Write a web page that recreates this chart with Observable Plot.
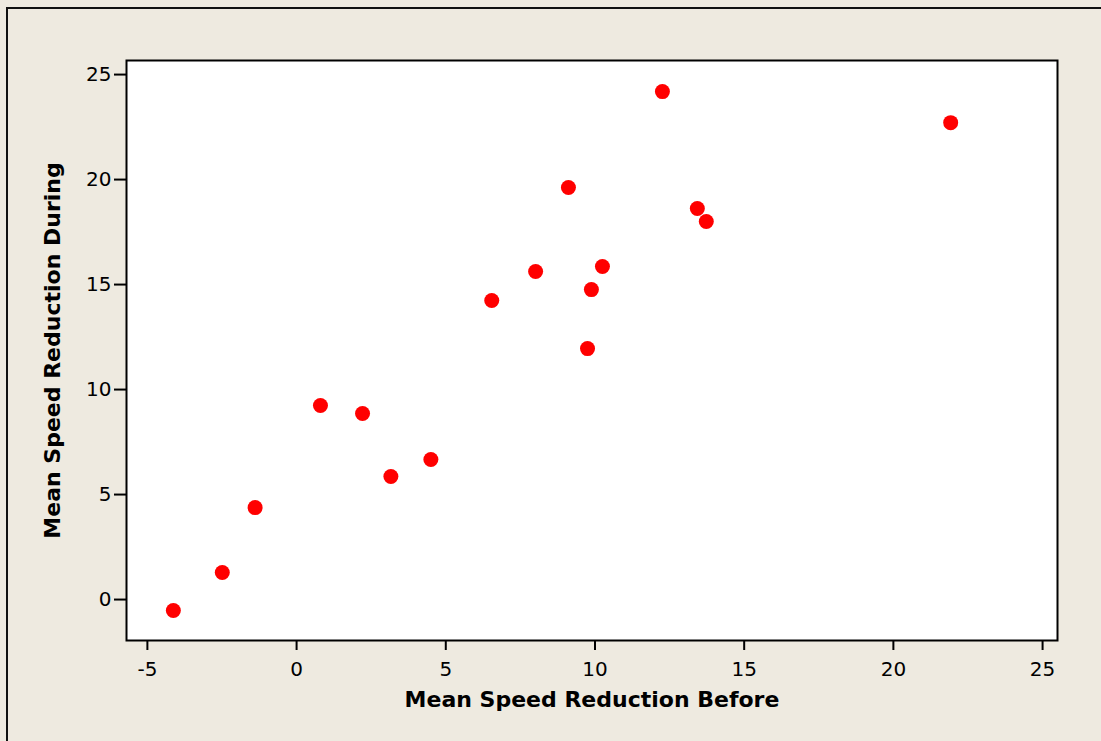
<!DOCTYPE html>
<html>
<head>
<meta charset="utf-8">
<script src="https://cdn.jsdelivr.net/npm/d3@7"></script>
<script src="https://cdn.jsdelivr.net/npm/@observablehq/plot@0.6"></script>
<style>
  html, body { margin: 0; padding: 0; background: #EEEAE0; }
  #wrap { position: relative; width: 1101px; height: 741px; overflow: hidden; }
  #edge {
    position: absolute; left: 6px; top: 7px; right: -10px; bottom: -10px;
    border-left: 2px solid #111; border-top: 2px solid #111; pointer-events: none;
  }
  #chart svg { display: block; }
</style>
</head>
<body>
<div id="wrap">
  <div id="chart"></div>
  <div id="edge"></div>
</div>
<script>
// Mean speed reduction measured before vs. during, one point per site
const before = [-4.13, -2.49, -1.39, 0.80, 2.21, 3.16, 4.50, 6.54, 8.01, 9.11, 9.75, 9.88, 10.25, 12.26, 13.43, 13.73, 21.92];
const during = [-0.52, 1.29, 4.38, 9.24, 8.86, 5.86, 6.67, 14.24, 15.62, 19.62, 11.95, 14.76, 15.86, 24.19, 18.62, 18.00, 22.71];
const xTicks = [-5, 0, 5, 10, 15, 20, 25];
const yTicks = [0, 5, 10, 15, 20, 25];
const xTitle = "Mean Speed Reduction Before";
const yTitle = "Mean Speed Reduction During";

const points = before.map((b, i) => ({before: b, during: during[i]}));

const fontFamily = "'DejaVu Sans', Verdana, sans-serif";
const plain = d => String(d); // hyphen-minus, as in the printed axis

const chart = Plot.plot({
  width: 1101,
  height: 741,
  marginLeft: 126,
  marginRight: 44,
  marginTop: 60,
  marginBottom: 101,
  style: {background: "#EEEAE0", fontFamily, color: "#000"},
  x: {domain: [-5.7, 25.5]},
  y: {domain: [-1.95, 25.67]},
  marks: [
    Plot.frame({fill: "white", stroke: "none"}),
    Plot.axisX(xTicks, {
      label: null, tickSize: 10, tickPadding: 11, fontSize: 20, tickFormat: plain,
      strokeWidth: 2, stroke: "#000", fill: "#000"
    }),
    Plot.axisY(yTicks, {
      label: null, tickSize: 12, tickPadding: 3, fontSize: 20, tickFormat: plain,
      strokeWidth: 2, stroke: "#000", fill: "#000"
    }),
    Plot.text([xTitle], {
      frameAnchor: "bottom", dy: 59, lineAnchor: "middle", textAnchor: "middle",
      fontSize: 22, fontWeight: "bold", fill: "#000", text: d => d
    }),
    Plot.text([yTitle], {
      frameAnchor: "left", dx: -74, rotate: -90, lineAnchor: "middle", textAnchor: "middle",
      fontSize: 22, fontWeight: "bold", fill: "#000", text: d => d
    }),
    Plot.dot(points, {x: "before", y: "during", r: 7.5, fill: "#FF0000", stroke: "none"}),
    Plot.frame({stroke: "#000", strokeWidth: 2})
  ]
});

document.getElementById("chart").appendChild(chart);
</script>
</body>
</html>
